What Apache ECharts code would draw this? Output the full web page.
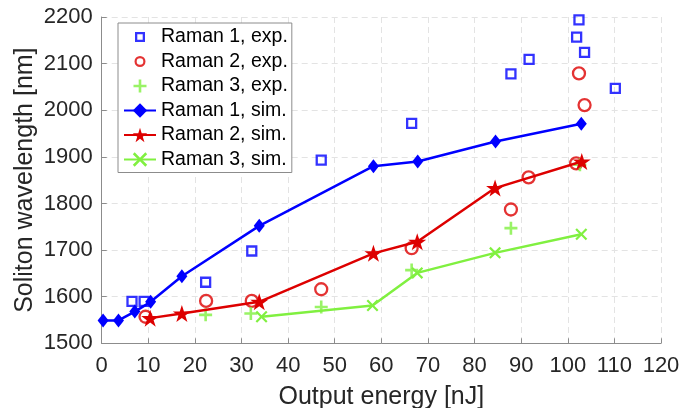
<!DOCTYPE html>
<html><head><meta charset="utf-8">
<script src="https://cdn.jsdelivr.net/npm/echarts@6/dist/echarts.min.js"></script>
<style>html,body{margin:0;padding:0;background:#fff}#c{width:683px;height:408px}</style>
</head><body><div id="c"></div>
<script>
// ---- data ----
const xTicks = [0,10,20,30,40,50,60,70,80,90,100,110,120];
const yTicks = [1500,1600,1700,1800,1900,2000,2100,2200];

const r1ExpX = [6.5, 9.1, 22.3, 32.2, 47.1, 66.5, 87.8, 91.7, 101.9, 102.4, 103.6, 110.2];
const r1ExpY = [1590, 1590, 1631, 1698, 1893, 1972, 2078, 2109, 2157, 2194, 2124, 2047];

const r2ExpX = [9.4, 22.4, 32.2, 47.1, 66.5, 87.8, 91.6, 101.8, 102.4, 103.6];
const r2ExpY = [1557, 1591, 1591, 1616, 1704, 1787, 1856, 1886, 2079, 2011];

const r3ExpX = [22.3, 32.0, 47.1, 66.5, 87.8, 102.6];
const r3ExpY = [1561, 1564, 1578, 1657, 1747, 1883];

const r1SimX = [0.3, 3.6, 7.1, 10.5, 17.2, 33.8, 58.3, 67.8, 84.5, 102.9];
const r1SimY = [1549, 1549, 1568, 1589, 1644, 1752, 1880, 1890, 1933, 1971];

const r2SimX = [10.4, 17.2, 33.8, 58.3, 67.7, 84.4, 103.0];
const r2SimY = [1554, 1564, 1589, 1693, 1718, 1833, 1890];

const r3SimX = [34.3, 58.1, 67.7, 84.4, 102.9];
const r3SimY = [1557, 1581, 1651, 1694, 1734];

const names = ['Raman 1, exp.','Raman 2, exp.','Raman 3, exp.','Raman 1, sim.','Raman 2, sim.','Raman 3, sim.'];

// ---- styling ----
const BLUE = '#0000ff', RED = '#dd0000', GREEN = '#80f040';
const FONT = 'Liberation Sans, Arial, Helvetica, sans-serif';
const TXT = '#262626';
const AX = '#8c8c8c';
const HOLLOW = 'rgba(0,0,0,0)';
const pair = (xs, ys) => xs.map((x, i) => [x, ys[i]]);

const PLUS = 'path://M4,0H6V4H10V6H6V10H4V6H0V4H4Z';
const CROSS = 'path://M0,1.3L1.3,0L5,3.7L8.7,0L10,1.3L6.3,5L10,8.7L8.7,10L5,6.3L1.3,10L0,8.7L3.7,5Z';
const STAR = 'path://M10,0L12.245,6.91L19.511,6.91L13.633,11.18L15.878,18.09L10,13.82L4.122,18.09L6.367,11.18L0.489,6.91L7.755,6.91Z';
// legend icons (filled rings) padded inside an 18x18 box
const PAD = 'M0,0L0,0M18,18L18,18';
const LG_SQUARE = 'path://' + PAD + 'M4,4H14V14H4ZM6.3,6.3V11.7H11.7V6.3Z';
const LG_CIRCLE = 'path://' + PAD + 'M3.5,9A5.5,5.5 0 1 1 14.5,9A5.5,5.5 0 1 1 3.5,9ZM5.7,9A3.3,3.3 0 1 0 12.3,9A3.3,3.3 0 1 0 5.7,9Z';
const LG_PLUS = 'path://' + PAD + 'M7.7,2.5H10.3V7.7H15.5V10.3H10.3V15.5H7.7V10.3H2.5V7.7H7.7Z';

const chart = echarts.init(document.getElementById('c'), null, {renderer: 'canvas'});
chart.setOption({
  animation: false,
  backgroundColor: '#fff',
  textStyle: {fontFamily: FONT},
  grid: {left: 101.7, right: 22, top: 17, bottom: 64.7, containLabel: false, outerBoundsMode: 'none'},
  legend: {
    orient: 'vertical', left: 118, top: 23,
    data: [
      {name: names[0], icon: LG_SQUARE, itemStyle: {color: BLUE, borderWidth: 0}},
      {name: names[1], icon: LG_CIRCLE, itemStyle: {color: RED, borderWidth: 0}},
      {name: names[2], icon: LG_PLUS, itemStyle: {color: GREEN, borderWidth: 0}},
      {name: names[3]}, {name: names[4]}, {name: names[5]}
    ],
    itemWidth: 32, itemHeight: 18, itemGap: 4.5,
    padding: [4, 4, 3, 5],
    borderColor: AX, borderWidth: 1, backgroundColor: '#fff',
    textStyle: {fontFamily: FONT, fontSize: 19.5, color: '#000'}
  },
  xAxis: {
    type: 'value', min: 0, max: 120, interval: 10,
    name: 'Output energy [nJ]', nameLocation: 'middle', nameGap: 41, nameMoveOverlap: false,
    nameTextStyle: {fontFamily: FONT, fontSize: 25, color: TXT},
    axisLine: {show: true, lineStyle: {color: AX, width: 1}},
    axisTick: {show: true, inside: true, length: 5, lineStyle: {color: AX}},
    axisLabel: {fontFamily: FONT, fontSize: 22, color: TXT, margin: 12,
      formatter: v => xTicks.includes(v) ? String(v) : ''},
    splitLine: {show: true, lineStyle: {color: '#e3e3e3', type: [6, 4], width: 1}}
  },
  yAxis: {
    type: 'value', min: 1500, max: 2200, interval: 100,
    name: 'Soliton wavelength [nm]', nameLocation: 'middle', nameGap: 64, nameMoveOverlap: false,
    nameTextStyle: {fontFamily: FONT, fontSize: 25, color: TXT},
    axisLine: {show: true, lineStyle: {color: AX, width: 1}},
    axisTick: {show: true, inside: true, length: 5, lineStyle: {color: AX}},
    axisLabel: {fontFamily: FONT, fontSize: 22, color: TXT, margin: 9,
      formatter: v => yTicks.includes(v) ? String(v) : ''},
    splitLine: {show: true, lineStyle: {color: '#e3e3e3', type: [6, 4], width: 1}}
  },
  series: [
    {name: names[0], type: 'scatter', data: pair(r1ExpX, r1ExpY), symbol: 'rect', symbolSize: 9,
     itemStyle: {color: HOLLOW, borderColor: BLUE, borderWidth: 2.3}},
    {name: names[1], type: 'scatter', data: pair(r2ExpX, r2ExpY), symbol: 'circle', symbolSize: 12,
     itemStyle: {color: HOLLOW, borderColor: RED, borderWidth: 2.3}},
    {name: names[2], type: 'scatter', data: pair(r3ExpX, r3ExpY), symbol: PLUS, symbolSize: 13,
     itemStyle: {color: GREEN}},
    {name: names[3], type: 'line', data: pair(r1SimX, r1SimY), symbol: 'diamond', symbolSize: [11, 14],
     showAllSymbol: true, lineStyle: {color: BLUE, width: 2.5}, itemStyle: {color: BLUE}},
    {name: names[4], type: 'line', data: pair(r2SimX, r2SimY), symbol: STAR, symbolSize: [18, 17],
     showAllSymbol: true, lineStyle: {color: RED, width: 2.5}, itemStyle: {color: RED}},
    {name: names[5], type: 'line', data: pair(r3SimX, r3SimY), symbol: CROSS, symbolSize: 12,
     showAllSymbol: true, lineStyle: {color: GREEN, width: 2.5}, itemStyle: {color: GREEN}}
  ]
});
</script>
</body></html>
